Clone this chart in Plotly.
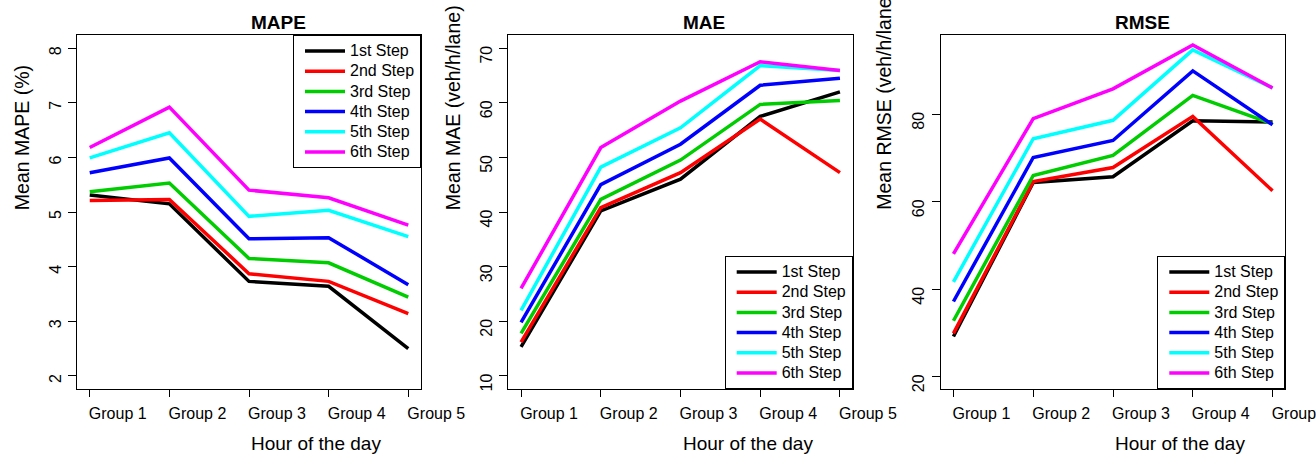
import plotly.graph_objects as go

# ---------------- data ----------------
groups = ["Group 1", "Group 2", "Group 3", "Group 4", "Group 5"]
steps = ["1st Step", "2nd Step", "3rd Step", "4th Step", "5th Step", "6th Step"]
step_colors = ["#000000", "#FF0000", "#00CD00", "#0000FF", "#00FFFF", "#FF00FF"]

mape_step1 = [5.31, 5.15, 3.73, 3.64, 2.50]
mape_step2 = [5.21, 5.23, 3.87, 3.73, 3.14]
mape_step3 = [5.37, 5.53, 4.15, 4.07, 3.44]
mape_step4 = [5.72, 5.99, 4.51, 4.53, 3.67]
mape_step5 = [5.99, 6.45, 4.92, 5.03, 4.55]
mape_step6 = [6.18, 6.92, 5.40, 5.26, 4.76]

mae_step1 = [15.3, 40.2, 46.0, 57.5, 62.0]
mae_step2 = [16.2, 40.8, 47.2, 57.0, 47.2]
mae_step3 = [17.8, 42.3, 49.5, 59.7, 60.4]
mae_step4 = [19.8, 45.0, 52.4, 63.2, 64.5]
mae_step5 = [22.0, 48.2, 55.4, 66.8, 65.9]
mae_step6 = [26.0, 51.8, 60.3, 67.5, 65.9]

rmse_step1 = [29.2, 64.4, 65.7, 78.5, 78.2]
rmse_step2 = [29.9, 64.6, 67.8, 79.5, 62.5]
rmse_step3 = [32.8, 66.0, 70.6, 84.3, 77.8]
rmse_step4 = [37.2, 70.1, 74.0, 89.9, 77.6]
rmse_step5 = [41.7, 74.4, 78.6, 94.7, 86.0]
rmse_step6 = [48.1, 79.0, 85.8, 95.8, 86.0]

mape_ticks = [2, 3, 4, 5, 6, 7, 8]
mae_ticks = [10, 20, 30, 40, 50, 60, 70]
rmse_ticks = [20, 40, 60, 80]

# ---------------- layout helpers ----------------
W, H = 1316, 457
FONT = "Liberation Sans, Arial, Helvetica, sans-serif"
TOP, BOTTOM = 35, 389
panels = [
    dict(title="MAPE", ytitle="Mean MAPE (%)",
         series=[mape_step1, mape_step2, mape_step3, mape_step4, mape_step5, mape_step6],
         ticks=mape_ticks, yrange=[1.76, 8.24], x0=77, x1=421, ytx=21.7,
         legpos="top", yshift=5),
    dict(title="MAE", ytitle="Mean MAE (veh/h/lane)",
         series=[mae_step1, mae_step2, mae_step3, mae_step4, mae_step5, mae_step6],
         ticks=mae_ticks, yrange=[7.6, 72.4], x0=508.3, x1=852.7, ytx=452.7,
         legpos="bottom", yshift=9),
    dict(title="RMSE", ytitle="Mean RMSE (veh/h/lane)",
         series=[rmse_step1, rmse_step2, rmse_step3, rmse_step4, rmse_step5, rmse_step6],
         ticks=rmse_ticks, yrange=[17.2, 98.1], x0=940.7, x1=1285.3, ytx=883.3,
         legpos="bottom", yshift=9),
]

def fx(p):
    return p / W

def fy(p):
    return 1 - p / H

fig = go.Figure()
layout = dict(
    width=W, height=H, margin=dict(l=0, r=0, t=0, b=0, pad=0, autoexpand=False),
    paper_bgcolor="white", plot_bgcolor="white",
    font=dict(family=FONT, color="black"),
    showlegend=True, annotations=[],
)

for i, p in enumerate(panels, start=1):
    sfx = "" if i == 1 else str(i)
    leg = "legend" if i == 1 else f"legend{i}"
    for name, vals, col in zip(steps, p["series"], step_colors):
        fig.add_trace(go.Scatter(
            x=groups, y=vals, mode="lines",
            name=f"<span style='font-size:16px'>{name}</span>",
            line=dict(color=col, width=3.5),
            xaxis=f"x{sfx}", yaxis=f"y{sfx}", legend=leg,
        ))
    layout[f"xaxis{sfx}"] = dict(
        domain=[fx(p["x0"]), fx(p["x1"])], anchor=f"y{sfx}",
        type="category", categoryorder="array", categoryarray=groups,
        range=[-0.16, 4.16], automargin=False,
        showline=True, mirror=True, linecolor="black", linewidth=1,
        ticks="outside", ticklen=7, tickwidth=1, tickcolor="black",
        showgrid=False, zeroline=False,
        tickfont=dict(size=16, family=FONT, color="black"),
        ticklabelshift=28, ticklabelstandoff=3, ticklabeloverflow="allow",
    )
    layout[f"yaxis{sfx}"] = dict(
        domain=[fy(BOTTOM), fy(TOP)], anchor=f"x{sfx}",
        range=p["yrange"], tickmode="array", tickvals=p["ticks"],
        automargin=False,
        showline=True, mirror=True, linecolor="black", linewidth=1,
        ticks="outside", ticklen=8, tickwidth=1, tickcolor="black",
        showgrid=False, zeroline=False, tickangle=-90,
        tickfont=dict(size=16, family=FONT, color="black"),
        ticklabelshift=p["yshift"], ticklabelstandoff=1,
    )
    cx = (p["x0"] + p["x1"]) / 2
    cy = (TOP + BOTTOM) / 2
    layout["annotations"] += [
        dict(text=f"<b>{p['title']}</b>", xref="paper", yref="paper",
             x=fx(cx), y=fy(22), xanchor="left", yanchor="middle",
             showarrow=False, font=dict(size=19, family=FONT, color="black")),
        dict(text="Hour of the day", xref="paper", yref="paper",
             x=fx(cx), y=fy(443), xanchor="left", yanchor="middle",
             showarrow=False, font=dict(size=19, family=FONT, color="black")),
        dict(text=p["ytitle"], xref="paper", yref="paper", textangle=-90,
             x=fx(p["ytx"]), y=fy(cy), xanchor="center", yanchor="bottom",
             showarrow=False, font=dict(size=19.5, family=FONT, color="black")),
    ]
    legd = dict(
        xref="paper", yref="paper", x=fx(p["x1"]), xanchor="right",
        bordercolor="black", borderwidth=1, bgcolor="white",
        font=dict(size=13.2, family=FONT, color="black"),
        itemwidth=40, indentation=6, traceorder="normal",
        itemclick=False, itemdoubleclick=False,
    )
    if p["legpos"] == "top":
        legd.update(y=fy(TOP), yanchor="top")
    else:
        legd.update(y=fy(BOTTOM), yanchor="bottom")
    layout[leg] = legd

fig.update_layout(**layout)
fig.write_html("out.html")
